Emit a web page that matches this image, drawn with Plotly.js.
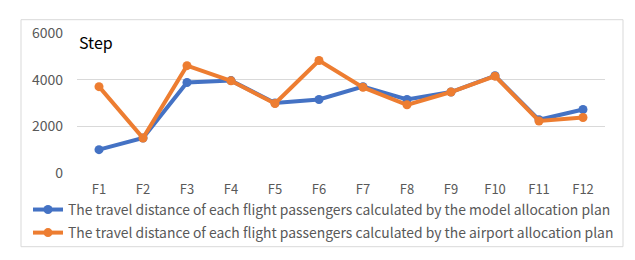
<!DOCTYPE html>
<html><head><meta charset="utf-8">
<script src="https://cdn.plot.ly/plotly-3.0.1.min.js"></script>
<style>html,body{margin:0;padding:0;background:#fff}#c{width:635px;height:260px}</style>
</head><body><div id="c"></div>
<script>
var categories = ["F1","F2","F3","F4","F5","F6","F7","F8","F9","F10","F11","F12"];
var modelPlan = [1000,1500,3880,3960,3000,3150,3700,3150,3470,4170,2280,2720];
var airportPlan = [3700,1500,4600,3950,2980,4820,3670,2920,3470,4150,2230,2380];
var yTicks = [0,2000,4000,6000];
var seriesNames = [
  "The travel distance of each flight passengers calculated by the model allocation plan",
  "The travel distance of each flight passengers calculated by the airport allocation plan"
];
var fontFam = "'Noto Sans CJK SC', 'Noto Sans', sans-serif";
var traces = [
  {x: categories, y: modelPlan, name: seriesNames[0], type: "scatter", mode: "lines+markers", legendgroup: "a",
   line: {color: "#4472C4", width: 4}, marker: {color: "#4472C4", size: 9}},
  {x: categories, y: airportPlan, name: seriesNames[1], type: "scatter", mode: "lines+markers", legendgroup: "b",
   line: {color: "#ED7D31", width: 4}, marker: {color: "#ED7D31", size: 9}}
];
var L = 77, R = 30, T = 33.3, B = 86.7, W = 635 - L - R, H = 260 - T - B;
function px(x){ return (x - L) / W; }
function py(y){ return (260 - B - y) / H; }
var layout = {
  width: 635, height: 260,
  margin: {l: L, r: R, t: T, b: B, pad: 0, autoexpand: false},
  paper_bgcolor: "#fff", plot_bgcolor: "#fff",
  font: {family: fontFam, color: "#595959", size: 13},
  showlegend: true,
  xaxis: {type: "category", range: [-0.5, 11.5], showgrid: false, zeroline: false, showline: false,
    ticks: "", tickfont: {size: 13, color: "#595959"}, ticklabelstandoff: 7, fixedrange: true},
  yaxis: {range: [0, 6000], tickvals: yTicks, ticktext: yTicks.map(String), showgrid: true,
    gridcolor: "#d9d9d9", gridwidth: 1, zeroline: false, showline: false, ticks: "",
    tickfont: {size: 14, color: "#595959"}, ticklabelstandoff: 13, fixedrange: true},
  legend: {orientation: "v", xref: "container", yref: "container", x: 28 / 635, xanchor: "left",
    y: (260 - 194) / 260, yanchor: "top",
    font: {size: 13.9, color: "#595959", family: fontFam}, bgcolor: "rgba(0,0,0,0)",
    traceorder: "grouped", tracegroupgap: 2, itemwidth: 30},
  shapes: [
    {type: "rect", xref: "paper", yref: "paper", x0: px(21), x1: px(623), y0: py(247), y1: py(20),
     line: {color: "#d9d9d9", width: 1}, fillcolor: "rgba(0,0,0,0)", layer: "below"},
    {type: "rect", xref: "paper", yref: "paper", x0: px(76), x1: px(126), y0: py(36), y1: py(31),
     line: {width: 0}, fillcolor: "#fff", layer: "above"}
  ],
  annotations: [
    {text: "Step", xref: "paper", yref: "paper", x: px(77), y: py(42), xanchor: "left", yanchor: "middle",
     showarrow: false, font: {size: 16, color: "#000", family: fontFam}}
  ]
};
Plotly.newPlot("c", traces, layout, {displayModeBar: false, staticPlot: true});
</script></body></html>
